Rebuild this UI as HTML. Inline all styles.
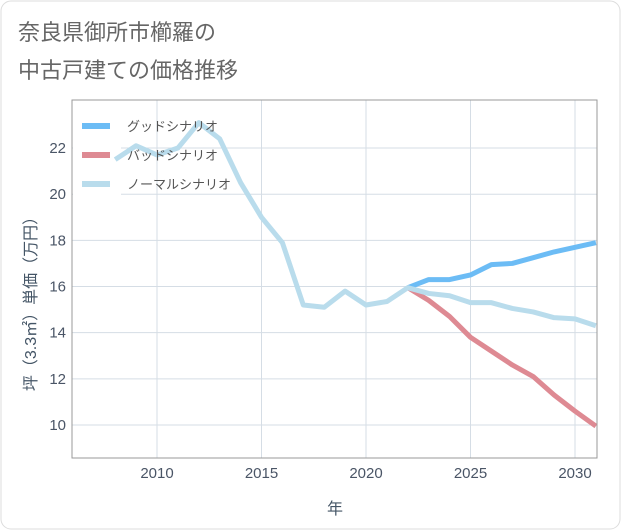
<!DOCTYPE html>
<html><head><meta charset="utf-8"><style>
body{margin:0;background:#fff}
svg{display:block;font-family:"Liberation Sans","Noto Sans CJK JP",sans-serif}
</style></head><body>
<svg width="621" height="530">
<rect x="1" y="1" width="619" height="528" rx="10" fill="#fff" stroke="#ddd"/>
<text x="18" y="40" font-size="22" fill="#666">奈良県御所市櫛羅の</text>
<text x="18" y="78" font-size="22" fill="#666">中古戸建ての価格推移</text>
<g id="grid"></g>
<rect x="73" y="108" width="48" height="88" fill="#fff"/>
<g id="series"></g>
<g id="legend"></g>
<rect x="72" y="100" width="525" height="358" fill="none" stroke="#999" stroke-width="1"/>
<text x="335" y="514" font-size="16" fill="#445566" text-anchor="middle">年</text>
<text transform="translate(36,300) rotate(-90)" font-size="16" fill="#445566" text-anchor="middle">坪（3.3㎡）単価（万円）</text>
</svg>
<script>
const xTicks=[2010,2015,2020,2025,2030];
const yTicks=[10,12,14,16,18,20,22];
const normalYears=[2008,2009,2010,2011,2012,2013,2014,2015,2016,2017,2018,2019,2020,2021,2022,2023,2024,2025,2026,2027,2028,2029,2030,2031];
const normalVals=[21.5,22.1,21.7,22.0,23.1,22.4,20.5,19.0,17.9,15.2,15.1,15.8,15.2,15.35,15.95,15.7,15.6,15.3,15.3,15.05,14.9,14.65,14.6,14.3];
const scenYears=[2022,2023,2024,2025,2026,2027,2028,2029,2030,2031];
const goodVals=[15.95,16.3,16.3,16.5,16.95,17.0,17.25,17.5,17.7,17.9];
const badVals=[15.95,15.4,14.7,13.8,13.2,12.6,12.1,11.3,10.6,9.95];
const legendLabels=['グッドシナリオ','バッドシナリオ','ノーマルシナリオ'];
const legendColors=['#6cbcf5','#de8a93','#b9dcec'];
const NS='http://www.w3.org/2000/svg';
const X0=72,X1=597,Y0=100,Y1=458;
const xs=y=>157+(y-2010)*20.9;
const ys=v=>425-(v-10)*23.08;
function mk(t,a,p){const e=document.createElementNS(NS,t);for(const k in a)e.setAttribute(k,a[k]);p.appendChild(e);return e;}
const g=document.getElementById('grid');
xTicks.forEach(t=>{
const l=mk('line',{x1:xs(t),x2:xs(t),y1:Y0,y2:Y1,stroke:'#d5dde5'},g);


const tx=mk('text',{x:xs(t),y:478,'font-size':15,fill:'#4a5566','text-anchor':'middle'},g);
tx.textContent=t;


});
yTicks.forEach(t=>{
const l=mk('line',{x1:X0,x2:X1,y1:ys(t),y2:ys(t),stroke:'#d5dde5'},g);


const tx=mk('text',{x:66,y:ys(t)+5,'font-size':15,fill:'#4a5566','text-anchor':'end'},g);
tx.textContent=t;


});
const s=document.getElementById('series');
function line(years,vals,color,name){
const p=mk('polyline',{points:years.map((y,i)=>xs(y)+','+ys(vals[i])).join(' '),fill:'none',stroke:color,'stroke-width':5,'stroke-linejoin':'round'},s);


}
line(scenYears,badVals,legendColors[1],'bad-scenario-line');
line(scenYears,goodVals,legendColors[0],'good-scenario-line');
line(normalYears,normalVals,legendColors[2],'normal-scenario-line');
const lg=document.getElementById('legend');
legendLabels.forEach((lab,i)=>{
const y=126+i*29;
const r=mk('line',{x1:82,x2:110,y1:y,y2:y,stroke:legendColors[i],'stroke-width':6},lg);


const t=mk('text',{x:127,y:y+5,'font-size':13,fill:'#555'},lg);
t.textContent=lab;


});
</script>
</body></html>
